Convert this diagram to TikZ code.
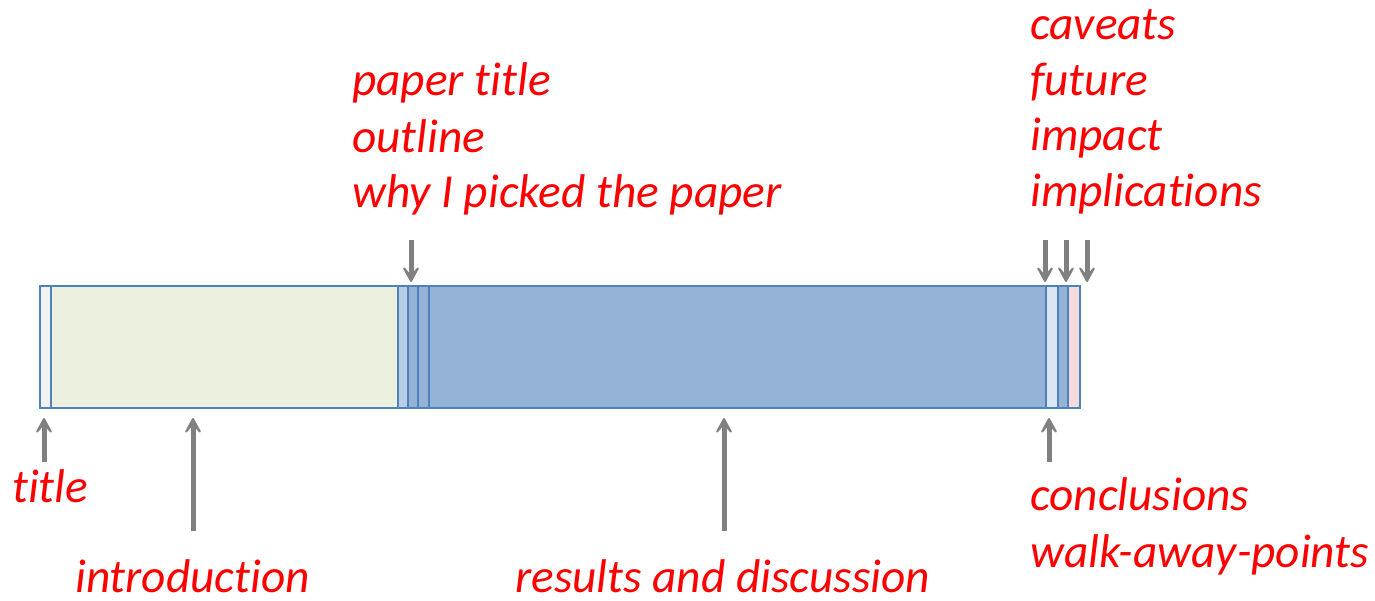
\documentclass[tikz,border=0pt]{standalone}
\usepackage{fontspec}
\setmainfont{Carlito}[Ligatures=NoCommon]
\usetikzlibrary{arrows.meta}
\definecolor{segedge}{HTML}{4F81BD}
\definecolor{titlefill}{HTML}{F2F2F2}
\definecolor{introfill}{HTML}{EBF1DE}
\definecolor{lightblue}{HTML}{B9CDE5}
\definecolor{midblue}{HTML}{95B3D7}
\definecolor{paleblue}{HTML}{DCE6F2}
\definecolor{pinkfill}{HTML}{F2DCDB}
\definecolor{arrowgray}{HTML}{808080}
\definecolor{labelred}{HTML}{FF0000}
\tikzset{
  seg/.style={draw=segedge, line width=1.8pt, rectangle, inner sep=0pt, outer sep=0pt,
    anchor=north west, minimum height=122pt},
  lbl/.style={text=labelred, font=\fontsize{47.3}{56}\selectfont\itshape, inner sep=0pt, anchor=base west},
  ptr/.style={draw=arrowgray, line width=5pt,
    -{Stealth[length=23pt,width=25pt,inset=15pt,round]}}
}
\begin{document}
\begin{tikzpicture}[x=1pt,y=-1pt]
\useasboundingbox (0,0) rectangle (1375,600);
% bar segments
\node[seg, fill=titlefill, minimum width=11pt] (sTitle) at (40,286) {};
\node[seg, fill=introfill, minimum width=347pt] (sIntro) at (51,286) {};
\node[seg, fill=lightblue, minimum width=10pt] (sPaper) at (398,286) {};
\node[seg, fill=midblue, minimum width=10pt] (sOutline) at (408,286) {};
\node[seg, fill=midblue, minimum width=11pt] (sWhy) at (418,286) {};
\node[seg, fill=midblue, minimum width=617pt] (sResults) at (429,286) {};
\node[seg, fill=paleblue, minimum width=12pt] (sConcl) at (1046,286) {};
\node[seg, fill=midblue, minimum width=10pt] (sCav) at (1058,286) {};
\node[seg, fill=pinkfill, minimum width=12pt] (sImpl) at (1068,286) {};
% labels
\node[lbl] (tTitle) at (12,502) {title};
\node[lbl] (tIntro) at (75,592) {introduction};
\node[lbl] (tPaper) at (352,95) {paper title};
\node[lbl] (tOutline) at (352,152) {outline};
\node[lbl] (tWhy) at (352,207) {why I picked the paper};
\node[lbl] (tResults) at (515,592) {results and discussion};
\node[lbl] (tCav) at (1030,39) {caveats};
\node[lbl] (tFuture) at (1030,95) {future};
\node[lbl] (tImpact) at (1030,150) {impact};
\node[lbl] (tImpl) at (1030,206) {implications};
\node[lbl] (tConcl) at (1030,510) {conclusions};
\node[lbl] (tWalk) at (1030,567) {walk-away-points};
% arrow coordinates
\coordinate (aTitleS) at (44,462);  \coordinate (aTitleE) at (44,418);
\coordinate (aIntroS) at (193,531); \coordinate (aIntroE) at (193,418);
\coordinate (aResS) at (724,531);   \coordinate (aResE) at (724,418);
\coordinate (aConS) at (1049,462);  \coordinate (aConE) at (1049,418);
\coordinate (aTopS) at (411,240);   \coordinate (aTopE) at (411,282);
\coordinate (aT1S) at (1045,240);   \coordinate (aT1E) at (1045,282);
\coordinate (aT2S) at (1066,240);   \coordinate (aT2E) at (1066,282);
\coordinate (aT3S) at (1087,240);   \coordinate (aT3E) at (1087,282);
\draw[ptr] (aTitleS) -- (aTitleE);
\draw[ptr] (aIntroS) -- (aIntroE);
\draw[ptr] (aResS) -- (aResE);
\draw[ptr] (aConS) -- (aConE);
\draw[ptr] (aTopS) -- (aTopE);
\draw[ptr] (aT1S) -- (aT1E);
\draw[ptr] (aT2S) -- (aT2E);
\draw[ptr] (aT3S) -- (aT3E);
\end{tikzpicture}
\end{document}
